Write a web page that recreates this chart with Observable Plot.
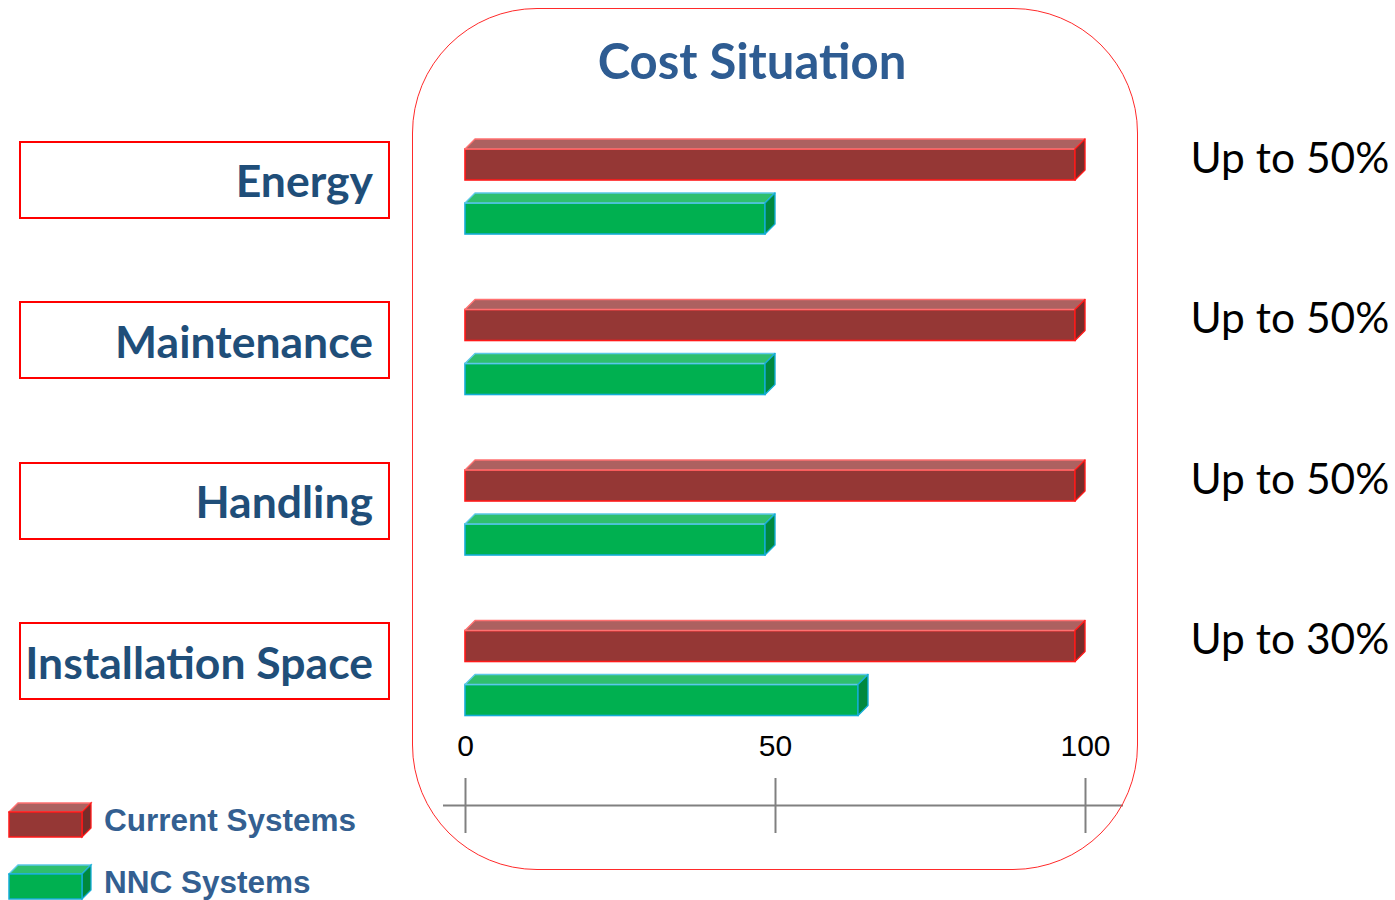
<!DOCTYPE html>
<html><head><meta charset="utf-8">
<script src="https://cdn.jsdelivr.net/npm/d3@7"></script>
<script src="https://cdn.jsdelivr.net/npm/@observablehq/plot@0.6"></script>
<style>
html,body{margin:0;padding:0;background:#fff;}
#wrap{position:relative;width:1395px;height:900px;overflow:hidden;font-family:Lato,"Open Sans",sans-serif;}
#wrap > svg.chart{position:absolute;left:0;top:0;}
.frame{position:absolute;left:412px;top:8px;width:726px;height:862px;border:1.5px solid #ff2a2a;border-radius:125px;box-sizing:border-box;pointer-events:none;}
.title{position:absolute;left:402px;width:700px;top:28px;text-align:center;font-weight:700;font-size:49px;line-height:64px;color:#2E5C92;}
.cat{position:absolute;left:19px;width:371px;height:78px;border:2px solid #ff0000;box-sizing:border-box;display:flex;align-items:center;justify-content:flex-end;padding-right:15px;font-weight:700;font-size:44.5px;color:#1F4E79;white-space:nowrap;}
.leg{position:absolute;left:8px;height:40px;display:flex;align-items:center;}
.leg span{font-family:"Liberation Sans",Arial,sans-serif;font-weight:700;font-size:31.5px;color:#335F91;margin-left:10px;}
</style>
</head><body>
<div id="wrap"></div>
<script>
// ---- data ----
const categories = ["Energy", "Maintenance", "Handling", "Installation Space"];
const currentValues = [100, 100, 100, 100];
const nncValues = [50, 50, 50, 65];
const savingsLabels = ["Up to 50%", "Up to 50%", "Up to 50%", "Up to 30%"];
const seriesNames = ["Current Systems", "NNC Systems"];
const tickValues = [0, 50, 100];

// ---- styles / layout ----
const palette = {
  "Current Systems": {front: "#953735", top: "#AD6160", side: "#772C2A", stroke: "#ff1a1a", topStroke: "#ff7070"},
  "NNC Systems": {front: "#00B050", top: "#2FBF6E", side: "#00893E", stroke: "#14ADD6", topStroke: "#5cc8e8"}
};
const X_RANGE = [465, 1085], Y0 = 149, STEP = 160.5;
const FRONT_H = 31, GAP = 54, DEPTH = 10;
const xPerPx = 100 / (X_RANGE[1] - X_RANGE[0]);
const xu = px => px * xPerPx;
const yu = px => px / STEP;
const yAt = px => (px - Y0) / STEP;
const xAt = px => (px - X_RANGE[0]) * xPerPx;

const bars = [];
categories.forEach((c, i) => {
  [[seriesNames[0], currentValues[i], 0], [seriesNames[1], nncValues[i], 1]].forEach(([s, v, k]) => {
    const top = i + k * yu(GAP);
    bars.push({cat: c, series: s, value: v, top, bottom: top + yu(FRONT_H), id: c + "|" + s});
  });
});
const dX = xu(DEPTH), dY = yu(DEPTH);
const topFace = bars.flatMap(b => [
  {id: b.id, series: b.series, y: b.top, x1: 0, x2: b.value - dX},
  {id: b.id, series: b.series, y: b.top - dY, x1: dX, x2: b.value}
]);
const sideFace = bars.flatMap(b => [
  {id: b.id, series: b.series, x: b.value - dX, y1: b.top, y2: b.bottom},
  {id: b.id, series: b.series, x: b.value, y1: b.top - dY, y2: b.bottom - dY}
]);

const barMarks = seriesNames.flatMap(s => {
  const p = palette[s];
  return [
    Plot.rect(bars.filter(b => b.series === s), {x1: 0, x2: d => d.value - dX, y1: "top", y2: "bottom", fill: p.front, stroke: p.stroke, strokeWidth: 1.6}),
    Plot.areaX(topFace.filter(d => d.series === s), {y: "y", x1: "x1", x2: "x2", z: "id", fill: p.top, stroke: p.topStroke, strokeWidth: 1.4, strokeLinejoin: "round"}),
    Plot.areaY(sideFace.filter(d => d.series === s), {x: "x", y1: "y1", y2: "y2", z: "id", fill: p.side, stroke: p.stroke, strokeWidth: 1.4, strokeLinejoin: "round"})
  ];
});

const rows = categories.map((c, i) => ({i, cat: c, label: savingsLabels[i]}));

const plot = Plot.plot({
  width: 1395, height: 900, margin: 0,
  x: {domain: [0, 100], range: X_RANGE, axis: null},
  y: {domain: [0, 1], range: [Y0, Y0 + STEP], axis: null},
  marks: [
    ...barMarks,
    Plot.ruleY([yAt(805)], {x1: xAt(443), x2: xAt(1123), stroke: "#808080", strokeWidth: 2}),
    Plot.ruleX(tickValues, {x: d => d, y1: yAt(778), y2: yAt(833), stroke: "#808080", strokeWidth: 2}),
    Plot.text(tickValues, {x: d => d, y: yAt(746), text: d => String(d), fontSize: 30, fontFamily: "Liberation Sans, Arial, sans-serif", fill: "#000"}),
    Plot.text(rows, {x: 100, y: d => d.i + yu(FRONT_H / 2 - 6), text: "label", textAnchor: "start", dx: 105, fontSize: 42.5, fontFamily: "Lato, sans-serif", fill: "#000"})
  ]
});
plot.classList.add("chart");
const wrap = document.getElementById("wrap");
wrap.appendChild(plot);

const yScale = plot.scale("y");

// frame + title
const frame = document.createElement("div"); frame.className = "frame"; wrap.appendChild(frame);
const title = document.createElement("div"); title.className = "title"; title.textContent = "Cost Situation"; wrap.appendChild(title);

// category boxes
rows.forEach(r => {
  const el = document.createElement("div");
  el.className = "cat";
  el.textContent = r.cat;
  el.style.top = (yScale.apply(r.i) - 8.5) + "px";
  wrap.appendChild(el);
});

// legend
seriesNames.forEach((s, k) => {
  const p = palette[s];
  const el = document.createElement("div");
  el.className = "leg";
  el.style.top = (800 + k * 62) + "px";
  const svg = d3.create("svg").attr("width", 86).attr("height", 40);
  const d = 9, x0 = 1, x1 = 74, t = 12, b = 37;
  svg.append("polygon").attr("points", `${x0},${t} ${x1},${t} ${x1+d},${t-d} ${x0+d},${t-d}`).attr("fill", p.top).attr("stroke", p.topStroke).attr("stroke-width", 1.3);
  svg.append("polygon").attr("points", `${x1},${t} ${x1+d},${t-d} ${x1+d},${b-d} ${x1},${b}`).attr("fill", p.side).attr("stroke", p.stroke).attr("stroke-width", 1.3);
  svg.append("rect").attr("x", x0).attr("y", t).attr("width", x1 - x0).attr("height", b - t).attr("fill", p.front).attr("stroke", p.stroke).attr("stroke-width", 1.5);
  el.appendChild(svg.node());
  const sp = document.createElement("span"); sp.textContent = s; el.appendChild(sp);
  wrap.appendChild(el);
});
</script>
</body></html>
